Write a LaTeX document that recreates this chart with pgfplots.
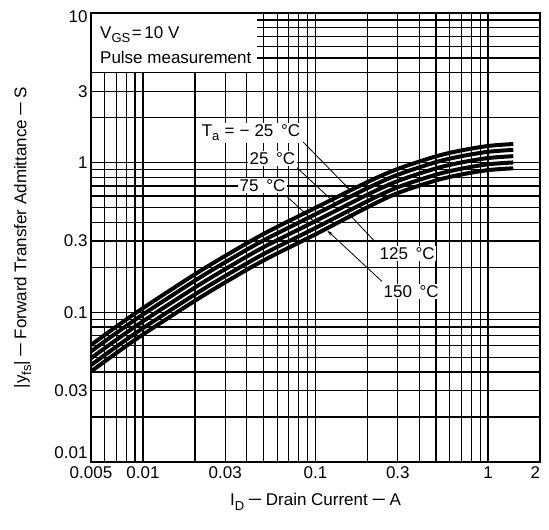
\documentclass[border=0pt]{standalone}
\usepackage{pgfplots}
\usepackage{pgfplotstable}
\pgfplotsset{compat=1.18}
\usepackage{graphicx}
\usepackage{fontspec}
\setmainfont{Liberation Sans}
\usetikzlibrary{arrows.meta}
\newcommand{\fs}{\fontsize{17bp}{20bp}\selectfont}
\newcommand{\ldash}{\hspace{0.2em}\scalebox{1.5}[1]{−}\hspace{0.2em}}
\newcommand{\sub}[1]{\raisebox{-0.28em}{\fontsize{13bp}{13bp}\selectfont #1}}

\pgfplotstableread{
x      m25     p25     p75     p125    p150
0.005  0.0605  0.05489 0.04940 0.04445 0.0403
0.007  0.0802  0.07271 0.06543 0.05890 0.0534
0.01   0.1067  0.09677 0.08711 0.07839 0.0711
0.02   0.1796  0.1628  0.1465  0.1318  0.1195
0.03   0.2384  0.2162  0.1945  0.1751  0.1587
0.05   0.3341  0.3029  0.2726  0.2453  0.2224
0.1    0.4995  0.4525  0.4074  0.3666  0.3323
0.2    0.742   0.6757  0.6113  0.5531  0.5039
0.3    0.909   0.8309  0.7547  0.6856  0.6269
0.5    1.103   1.0090  0.9164  0.8323  0.7613
0.7    1.207   1.1046  1.0033  0.9114  0.8338
1      1.293   1.1825  1.0740  0.9754  0.8922
1.4    1.333   1.2181  1.1056  1.0036  0.9174
}\yfs

\begin{document}
\begin{tikzpicture}
\begin{axis}[
  name=ax,
  xmode=log, ymode=log,
  scale only axis, width=449bp, height=449bp,
  xmin=0.005, xmax=2, ymin=0.01, ymax=10,
  xtick={0.005,0.01,0.03,0.1,0.3,1,2},
  xticklabels={0.005,0.01,0.03,0.1,0.3,1,\makebox[0pt][r]{2}},
  ytick={0.01,0.03,0.1,0.3,1,3,10},
  yticklabels={\smash{\raisebox{4bp}{0.01}},0.03,0.1,0.3,1,3,\smash{\raisebox{-9bp}{10}}},
  minor xtick={0.006,0.007,0.008,0.009,0.02,0.04,0.05,0.06,0.07,0.08,0.09,0.2,0.4,0.5,0.6,0.7,0.8,0.9},
  minor ytick={0.02,0.04,0.05,0.06,0.07,0.08,0.09,0.2,0.4,0.5,0.6,0.7,0.8,0.9,2,4,5,6,7,8,9},
  grid=both,
  major grid style={black,line width=1.3bp},
  minor grid style={black,line width=1.3bp},
  major tick length=0pt, minor tick length=0pt,
  axis line style={black,line width=1.8bp},
  tick label style={font=\fs},
  xticklabel style={yshift=-1bp},
  /pgf/number format/assume math mode=true,
  label style={font=\fs},
  xlabel={I\sub{D}\ldash Drain Current\ldash A},
  ylabel={|y\sub{fs}|\ldash Forward Transfer Admittance\ldash S},
  xlabel style={at={(axis description cs:0.5,-0.088)},anchor=center},
  ylabel style={at={(axis description cs:-0.152,0.5)},anchor=center},
  clip=false,
]
\addplot[black,line width=4bp,smooth] table[x=x,y=m25]{\yfs};
\addplot[black,line width=4bp,smooth] table[x=x,y=p25]{\yfs};
\addplot[black,line width=4bp,smooth] table[x=x,y=p75]{\yfs};
\addplot[black,line width=4bp,smooth] table[x=x,y=p125]{\yfs};
\addplot[black,line width=4bp,smooth] table[x=x,y=p150]{\yfs};

% condition box
\node[anchor=north west,fill=white,inner sep=0pt,minimum width=166bp,minimum height=59bp] at (rel axis cs:0,1) {};
\node[anchor=base west,inner sep=0pt,font=\fs] at (axis description cs:0.02,0.9443) {V\sub{GS}\hspace{0.1em}=\hspace{0.15em}10 V};
\node[anchor=base west,inner sep=0pt,font=\fs] at (axis description cs:0.02,0.8886) {Pulse measurement};

% temperature labels
\node[anchor=east,fill=white,inner sep=1.5bp,font=\fs] at (axis cs:0.0834,1.585) {T\sub{a}\hspace{0.3em}=\hspace{0.3em}−\hspace{0.3em}25\hspace{0.45em}°C};
\node[anchor=east,fill=white,inner sep=1.5bp,font=\fs] at (axis cs:0.0781,1.063) {25\hspace{0.45em}°C};
\node[anchor=east,fill=white,inner sep=1.5bp,font=\fs] at (axis cs:0.0684,0.7026) {75\hspace{0.45em}°C};
\node[anchor=west,fill=white,inner sep=1.5bp,font=\fs] at (axis cs:0.230,0.2474) {125\hspace{0.45em}°C};
\node[anchor=west,fill=white,inner sep=1.5bp,font=\fs] at (axis cs:0.2427,0.138) {150\hspace{0.45em}°C};

% leader arrows
\draw[line width=0.8bp,-{Stealth[length=6bp,width=3.5bp]}] (axis cs:0.0845,1.38) -- (axis cs:0.158,0.660);
\draw[line width=0.8bp,-{Stealth[length=6bp,width=3.5bp]}] (axis cs:0.0781,0.926) -- (axis cs:0.13,0.535);
\draw[line width=0.8bp,-{Stealth[length=6bp,width=3.5bp]}] (axis cs:0.0684,0.5935) -- (axis cs:0.097,0.410);
\draw[line width=0.8bp,-{Stealth[length=6bp,width=3.5bp]}] (axis cs:0.221,0.297) -- (axis cs:0.154,0.462);
\draw[line width=0.8bp,-{Stealth[length=6bp,width=3.5bp]}] (axis cs:0.2427,0.161) -- (axis cs:0.117,0.352);

\draw[black,line width=1.8bp] (rel axis cs:0,0) rectangle (rel axis cs:1,1);
\coordinate (bl) at (rel axis cs:0,0);
\coordinate (tr) at (rel axis cs:1,1);
\end{axis}
\path (bl) ++(-91bp,-67bp);
\path (tr) ++(9bp,13bp);
\end{tikzpicture}
\end{document}
